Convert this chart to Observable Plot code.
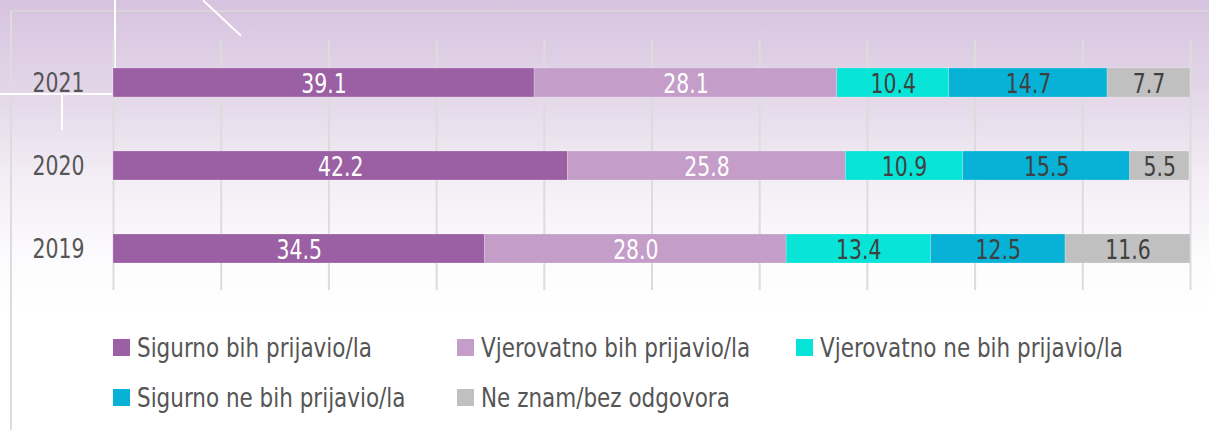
<!DOCTYPE html>
<html>
<head>
<meta charset="utf-8">
<script src="https://cdn.jsdelivr.net/npm/d3@7"></script>
<script src="https://cdn.jsdelivr.net/npm/@observablehq/plot@0.6"></script>
<style>
  html, body { margin: 0; padding: 0; }
  body {
    width: 1209px; height: 430px; overflow: hidden; position: relative;
    background: linear-gradient(to bottom, #d6c3df 0px, #e3d6e8 90px, #f3eef5 180px, #fcfbfd 260px, #ffffff 310px);
    font-family: "DejaVu Sans Condensed", "DejaVu Sans", sans-serif;
  }
  .deco { position: absolute; }
  #chart { position: absolute; left: 0; top: 0; }
  #legend {
    position: absolute; left: 113px; top: 329px;
    display: grid; grid-template-columns: 344px 339px 380px; row-gap: 14px;
    font-size: 27px; color: #555;
  }
  .item { display: flex; align-items: center; height: 36px; white-space: nowrap; }
  .sw { width: 17px; height: 17px; margin-right: 7px; flex: none; }
  .lt { display: inline-block; transform: scaleX(0.885); transform-origin: left center; }
</style>
</head>
<body>
<div class="deco" style="left:10px;top:10px;width:1199px;height:2px;background:#d9d3dc"></div>
<div class="deco" style="left:10px;top:10px;width:2px;height:420px;background:#dcdcdc"></div>
<div class="deco" style="left:114px;top:0;width:2px;height:96px;background:#fff"></div>
<div class="deco" style="left:0;top:93px;width:113px;height:2px;background:#fff"></div>
<div class="deco" style="left:61px;top:94px;width:2px;height:36px;background:#fff"></div>
<div class="deco" style="left:196px;top:17px;width:52px;height:2px;background:#fff;transform:rotate(43deg)"></div>
<div id="chart"></div>
<div id="legend"></div>
<script>
const years = ["2021", "2020", "2019"];
const categories = [
  "Sigurno bih prijavio/la",
  "Vjerovatno bih prijavio/la",
  "Vjerovatno ne bih prijavio/la",
  "Sigurno ne bih prijavio/la",
  "Ne znam/bez odgovora"
];
const colors = ["#9b60a3", "#c59dc9", "#08e4d7", "#08b1d6", "#c0c0c0"];
const labelColors = ["#ffffff", "#ffffff", "#404040", "#404040", "#404040"];
const values2021 = [39.1, 28.1, 10.4, 14.7, 7.7];
const values2020 = [42.2, 25.8, 10.9, 15.5, 5.5];
const values2019 = [34.5, 28.0, 13.4, 12.5, 11.6];
const xTicks = [0, 10, 20, 30, 40, 50, 60, 70, 80, 90, 100];

const series = {"2021": values2021, "2020": values2020, "2019": values2019};
const data = [];
for (const y of years) {
  categories.forEach((c, i) => data.push({year: y, cat: c, value: series[y][i], lc: labelColors[i]}));
}

const chart = Plot.plot({
  width: 1209,
  height: 300,
  marginLeft: 113,
  marginRight: 19,
  marginTop: 40,
  marginBottom: 10,
  style: {background: "transparent", fontFamily: "'DejaVu Sans Condensed', 'DejaVu Sans', sans-serif", fontSize: "27px"},
  x: {domain: [0, 100], axis: null},
  y: {domain: years, paddingInner: 0.653, paddingOuter: 0.323, label: null},
  color: {domain: categories, range: colors},
  marks: [
    Plot.ruleX(xTicks, {stroke: "#dcdcdc", strokeWidth: 2}),
    Plot.barX(data, Plot.stackX({y: "year", x: "value", fill: "cat", order: categories, inset: 0, stroke: "#ffffff", strokeOpacity: 0.35, strokeWidth: 0.6})),
    Plot.text(data, Plot.stackX({y: "year", x: "value", z: "cat", order: categories, text: d => d.value.toFixed(1), fill: "lc", fontSize: 27, dy: 1})),
    Plot.axisY({tickSize: 0, tickPadding: 29, fontSize: 27, color: "#555", label: null})
  ]
});
document.getElementById("chart").appendChild(chart);

// condense the numeric labels to match the narrow typeface of the original
chart.querySelectorAll("text").forEach(t => {
  const len = t.getComputedTextLength();
  if (len > 0) {
    t.setAttribute("textLength", (len * 0.84).toFixed(2));
    t.setAttribute("lengthAdjust", "spacingAndGlyphs");
  }
});

const legend = document.getElementById("legend");
categories.forEach((c, i) => {
  const it = document.createElement("div");
  it.className = "item";
  it.innerHTML = `<span class="sw" style="background:${colors[i]}"></span><span class="lt">${c}</span>`;
  legend.appendChild(it);
});
</script>
</body>
</html>
